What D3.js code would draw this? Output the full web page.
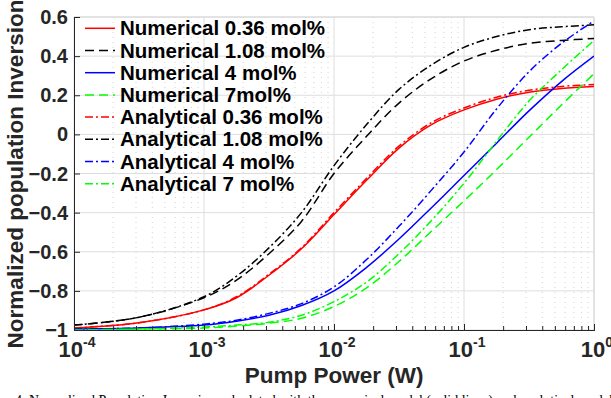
<!DOCTYPE html>
<html>
<head>
<meta charset="utf-8">
<script src="https://cdn.jsdelivr.net/npm/d3@7"></script>
<style>
  body { margin: 0; background: #fff; }
  svg { display: block; }
</style>
</head>
<body>
<script>
"use strict";

(function() {

const power = [1e-4, 3.16e-4, 1e-3, 1.78e-3, 3.16e-3, 5.62e-3, 1e-2, 1.78e-2,
    3.16e-2, 5.62e-2, 0.1, 0.178, 0.316, 0.562, 1];

const num036 = [-0.99, -0.963, -0.897, -0.835, -0.72, -0.585, -0.41, -0.235, -0.07, 0.05, 0.125, 0.18, 0.215, 0.235, 0.245];
const num108 = [-0.975, -0.935, -0.835, -0.745, -0.61, -0.445, -0.20, -0.01, 0.16, 0.285, 0.375, 0.43, 0.465, 0.48, 0.49];
const num4   = [-0.995, -0.99, -0.975, -0.955, -0.925, -0.875, -0.80, -0.68, -0.535, -0.375, -0.21, -0.045, 0.12, 0.27, 0.40];
const num7   = [-1.0, -0.995, -0.99, -0.98, -0.965, -0.94, -0.88, -0.785, -0.65, -0.495, -0.34, -0.18, -0.015, 0.15, 0.31];
const ana036 = [-0.99, -0.963, -0.897, -0.83, -0.715, -0.58, -0.40, -0.225, -0.06, 0.06, 0.135, 0.19, 0.225, 0.245, 0.255];
const ana108 = [-0.975, -0.935, -0.83, -0.725, -0.58, -0.40, -0.16, 0.05, 0.23, 0.355, 0.445, 0.50, 0.535, 0.55, 0.56];
const ana4   = [-0.995, -0.99, -0.97, -0.95, -0.915, -0.865, -0.78, -0.64, -0.47, -0.285, -0.09, 0.13, 0.32, 0.465, 0.58];
const ana7   = [-1.0, -0.995, -0.985, -0.975, -0.96, -0.925, -0.855, -0.755, -0.61, -0.44, -0.25, -0.035, 0.17, 0.33, 0.48];

const seriesNames = ['Numerical 0.36 mol%', 'Numerical 1.08 mol%', 'Numerical 4 mol%', 'Numerical 7mol%',
    'Analytical 0.36 mol%', 'Analytical 1.08 mol%', 'Analytical 4 mol%', 'Analytical 7 mol%'];
const seriesValues = [num036, num108, num4, num7, ana036, ana108, ana4, ana7];
const seriesColors = ['#ff0000', '#000000', '#0000ff', '#00ff00', '#ff0000', '#000000', '#0000ff', '#00ff00'];
const seriesDash = ['none', '9,5', 'none', '9,5', '8,3,2,3', '8,3,2,3', '8,3,2,3', '8,3,2,3'];

const xMajor = [1e-4, 1e-3, 1e-2, 1e-1, 1];
const xExp = ['-4', '-3', '-2', '-1', '0'];
const yTicks = [-1, -0.8, -0.6, -0.4, -0.2, 0, 0.2, 0.4, 0.6];

const font = 'Liberation Sans, Arial, Helvetica, sans-serif';
const axisColor = '#262626';

let margins = {top: 17, right: 17, bottom: 68, left: 74};
let width = 611 - margins.left - margins.right;
let height = 398 - margins.top - margins.bottom;

let svg = d3.select('body')
    .append('svg')
    .attr('width', 611)
    .attr('height', 398);

let g = svg.append('g')
    .attr('transform', 'translate(' + margins.left + ',' + margins.top + ')');

let x = d3.scaleLog().domain([1e-4, 1]).range([0, width]);
let y = d3.scaleLinear().domain([-1, 0.6]).range([height, 0]);

// minor decade positions 2..9
let xMinor = [];
xMajor.slice(0, -1).forEach(function(d) {
    for (let k = 2; k <= 9; k++) xMinor.push(d * k);
});

// grid
g.append('g').selectAll('line.minor')
    .data(xMinor).enter().append('line')
    .attr('x1', d => x(d)).attr('x2', d => x(d))
    .attr('y1', 0).attr('y2', height)
    .attr('stroke', '#c8c8c8').attr('stroke-width', 0.8)
    .attr('stroke-dasharray', '1,4');

g.append('g').selectAll('line.majx')
    .data(xMajor).enter().append('line')
    .attr('x1', d => x(d)).attr('x2', d => x(d))
    .attr('y1', 0).attr('y2', height)
    .attr('stroke', '#dedede').attr('stroke-width', 1);

g.append('g').selectAll('line.majy')
    .data(yTicks).enter().append('line')
    .attr('x1', 0).attr('x2', width)
    .attr('y1', d => y(d)).attr('y2', d => y(d))
    .attr('stroke', '#dedede').attr('stroke-width', 1);

// box top / right
g.append('path')
    .attr('d', 'M0,0H' + width + 'V' + height)
    .attr('fill', 'none').attr('stroke', '#d6d6d6');

// curves
svg.append('defs').append('clipPath').attr('id', 'plotclip')
    .append('rect').attr('width', width).attr('height', height);

let line = d3.line()
    .x((d, i) => x(power[i]))
    .y(d => y(d))
    .curve(d3.curveCatmullRom.alpha(0.5));

g.append('g').attr('clip-path', 'url(#plotclip)')
    .selectAll('path')
    .data(seriesValues).enter().append('path')
    .attr('d', line)
    .attr('fill', 'none')
    .attr('stroke', (d, i) => seriesColors[i])
    .attr('stroke-width', 1.5)
    .attr('stroke-dasharray', (d, i) => seriesDash[i]);

// axes
let xAxisMinor = d3.axisBottom(x).tickValues(xMinor).tickSize(-4).tickFormat('');
let xAxisMajor = d3.axisBottom(x).tickValues(xMajor).tickSize(-6).tickFormat('');
let yAxis = d3.axisLeft(y).tickValues(yTicks).tickSize(-6).tickFormat('');

[xAxisMinor, xAxisMajor].forEach(function(ax) {
    g.append('g')
        .attr('transform', 'translate(0,' + height + ')')
        .call(ax)
        .call(s => s.selectAll('line').attr('stroke', axisColor))
        .call(s => s.select('.domain').attr('stroke', axisColor));
});
g.append('g')
    .call(yAxis)
    .call(s => s.selectAll('line').attr('stroke', axisColor))
    .call(s => s.select('.domain').attr('stroke', axisColor));

// tick labels
g.append('g').selectAll('text')
    .data(yTicks).enter().append('text')
    .attr('x', -6).attr('y', d => y(d) + 7)
    .attr('text-anchor', 'end')
    .attr('font-family', font).attr('font-weight', 'bold').attr('font-size', 20)
    .attr('fill', axisColor)
    .text(d => d3.format('')(d));

let xl = g.append('g').selectAll('text')
    .data(xMajor).enter().append('text')
    .attr('x', d => x(d) + 3).attr('y', height + 27)
    .attr('text-anchor', 'middle')
    .attr('font-family', font).attr('font-weight', 'bold')
    .attr('fill', axisColor);
xl.append('tspan').attr('font-size', 22).text('10');
xl.append('tspan').attr('font-size', 14).attr('dy', -10).text((d, i) => xExp[i]);

// axis titles
svg.append('text')
    .attr('x', margins.left + width / 2).attr('y', 383)
    .attr('text-anchor', 'middle')
    .attr('font-family', font).attr('font-weight', 'bold').attr('font-size', 22.5)
    .attr('fill', axisColor)
    .text('Pump Power (W)');

svg.append('text')
    .attr('transform', 'translate(23,174) rotate(-90)')
    .attr('text-anchor', 'middle')
    .attr('font-family', font).attr('font-weight', 'bold').attr('font-size', 22.5)
    .attr('fill', axisColor)
    .text('Normalized population Inversion');

// legend (no box)
let legend = g.append('g').selectAll('g')
    .data(seriesNames).enter().append('g')
    .attr('transform', (d, i) => 'translate(11,' + (11.3 + i * 22.2) + ')');
legend.append('line')
    .attr('x1', 0).attr('x2', 30)
    .attr('stroke', (d, i) => seriesColors[i])
    .attr('stroke-width', 1.5)
    .attr('stroke-dasharray', (d, i) => seriesDash[i]);
legend.append('text')
    .attr('x', 35).attr('y', 7)
    .attr('font-family', font).attr('font-weight', 'bold').attr('font-size', 20.5)
    .attr('fill', '#000')
    .text(d => d);

// caption, cut by the page edge as in the source figure
svg.append('text')
    .attr('x', 15).attr('y', 405)
    .attr('font-family', 'Liberation Serif, Times New Roman, serif').attr('font-size', 14)
    .attr('fill', '#000')
    .text('4. Normalized Population Inversion calculated with the numerical model (solid lines) and analytical model (dash-dot lines)');

})();
</script>
</body>
</html>
